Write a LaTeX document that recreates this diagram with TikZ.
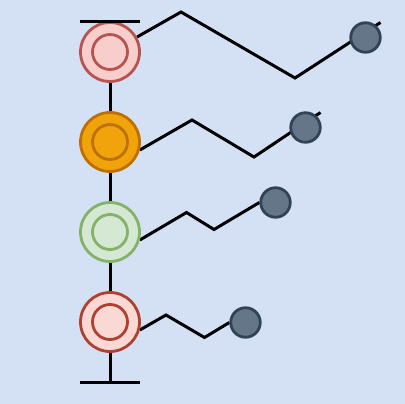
\documentclass[tikz,border=0pt]{standalone}
\usetikzlibrary{calc}
\pgfdeclarelayer{bg}
\pgfsetlayers{bg,main}
\definecolor{bgc}{HTML}{D4E1F5}
\definecolor{redF}{HTML}{F8CECC}\definecolor{redS}{HTML}{B85450}
\definecolor{orF}{HTML}{F0A30A}\definecolor{orS}{HTML}{BD7000}
\definecolor{grF}{HTML}{D5E8D4}\definecolor{grS}{HTML}{82B366}
\definecolor{r2F}{HTML}{FAD9D5}\definecolor{r2S}{HTML}{AE4132}
\definecolor{gyF}{HTML}{647687}\definecolor{gyS}{HTML}{314354}
\tikzset{
  bigc/.style={circle,draw=#1S,fill=#1F,line width=2.8pt,minimum size=59pt,inner sep=0pt},
  innc/.style={circle,draw=#1S,line width=2.8pt,minimum size=35pt,inner sep=0pt},
  smallc/.style={circle,draw=gyS,fill=gyF,line width=2.8pt,minimum size=29.5pt,inner sep=0pt},
  wire/.style={draw=black,line width=3pt,line join=miter},
}
\begin{document}
\begin{tikzpicture}[x=1pt,y=-1pt]
\begin{pgfonlayer}{bg}
\fill[bgc] (0,0) rectangle (405,404);
\end{pgfonlayer}
\useasboundingbox (0,0) rectangle (405,404);
% main column
\node[bigc=red] (n1) at (110,52) {};
\node[innc=red] (n1i) at (n1) {};
\node[bigc=or] (n2) at (110,142) {};
\node[innc=or] (n2i) at (n2) {};
\node[bigc=gr] (n3) at (110,232) {};
\node[innc=gr] (n3i) at (n3) {};
\node[bigc=r2] (n4) at (110,322) {};
\node[innc=r2] (n4i) at (n4) {};
% bars
\coordinate (tl) at (80,22); \coordinate (tr) at (140,22);
\coordinate (bc) at (110,382);
\coordinate (bl) at (80,382); \coordinate (br) at (140,382);
\draw[wire] (tl) -- (tr);
\draw[wire] (bl) -- (br);
\draw[wire] (n1.south) -- (n2.north);
\draw[wire] (n2.south) -- (n3.north);
\draw[wire] (n3.south) -- (n4.north);
\draw[wire] (n4.south) -- (bc);
% small circles
\node[smallc] (s1) at (365.5,37.5) {};
\node[smallc] (s2) at (305.5,127.5) {};
\node[smallc] (s3) at (275.5,202.5) {};
\node[smallc] (s4) at (245.5,322.5) {};
% bend points
\coordinate (p1a) at (181,12); \coordinate (p1b) at (295,78); \coordinate (e1) at (380.5,22.5);
\coordinate (p2a) at (192,120); \coordinate (p2b) at (254,157); \coordinate (e2) at (320.5,112.5);
\coordinate (p3a) at (186.5,212.5); \coordinate (p3b) at (214,229.5);
\coordinate (p4a) at (166,315); \coordinate (p4b) at (204.5,337.5);
\begin{pgfonlayer}{bg}
\draw[wire] (n1.29) -- (p1a) -- (p1b) -- (e1);
\draw[wire] (n2.-15) -- (p2a) -- (p2b) -- (e2);
\draw[wire] (n3.-15) -- (p3a) -- (p3b) -- (s3.west);
\draw[wire] (n4.-15) -- (p4a) -- (p4b) -- (s4.west);
\end{pgfonlayer}
\end{tikzpicture}
\end{document}
